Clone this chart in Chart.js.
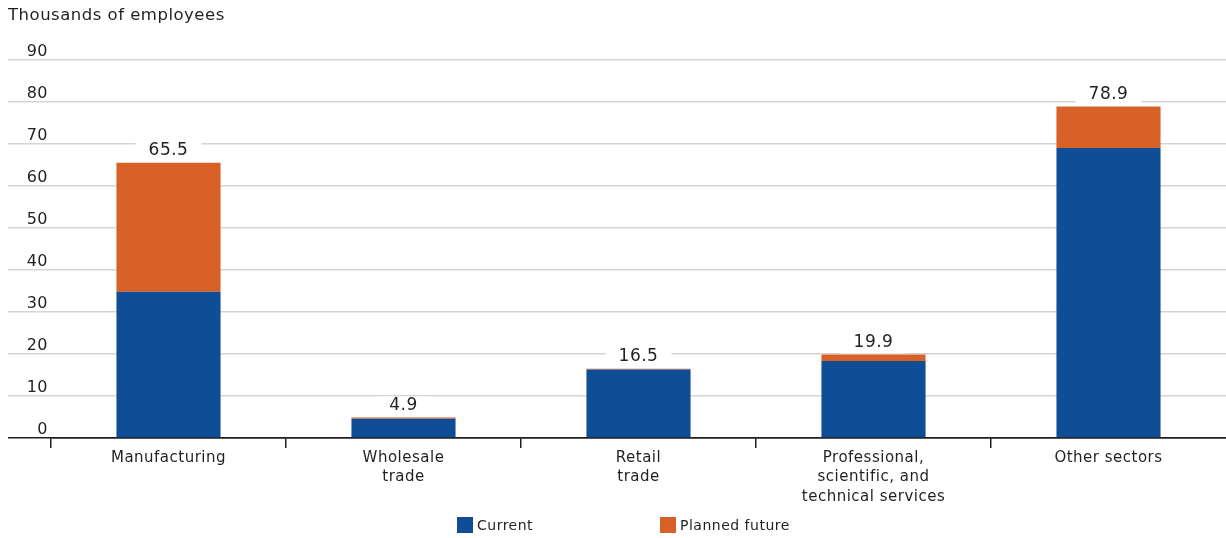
<!DOCTYPE html>
<html>
<head>
<meta charset="utf-8">
<script src="https://cdn.jsdelivr.net/npm/chart.js@4"></script>
<style>
  body { margin: 0; background: #fff; }
  #contenedor { width: 1226px; height: 538px; }
</style>
</head>
<body>
<div id="contenedor"><canvas id="empleo"></canvas></div>
<script>
// Sectores (etiquetas del eje x, en varias líneas cuando hace falta)
const sectores = [
  'Manufacturing',
  ['Wholesale', 'trade'],
  ['Retail', 'trade'],
  ['Professional,', 'scientific, and', 'technical services'],
  'Other sectors'
]
// Miles de empleados
const actual = [34.8, 4.6, 16.3, 18.3, 69.0]
const futuro = [30.7, 0.3, 0.2, 1.6, 9.9]
const y_max = 90
const y_paso = 10

const FUENTE = '"DejaVu Sans", sans-serif'
const TEXTO = '#231f20'
const AZUL = '#0f4e96'
const NARANJA = '#d86128'

// Un poco de espaciado entre letras para todo el texto del canvas
const espaciado = {
  id: 'espaciado',
  beforeUpdate: (chart) => { chart.ctx.letterSpacing = '0.5px' },
  beforeDraw: (chart) => { chart.ctx.letterSpacing = '0.5px' }
}

// Total arriba de cada barra, con fondo blanco que tapa la grilla
const totales = {
  id: 'totales',
  afterDatasetsDraw: (chart) => {
    const { ctx, scales: { x, y } } = chart
    ctx.save()
    ctx.font = `17px ${FUENTE}`
    ctx.textAlign = 'center'
    ctx.textBaseline = 'middle'
    sectores.forEach((s, i) => {
      const total = actual[i] + futuro[i]
      const txt = total.toFixed(1)
      const px = x.getPixelForValue(i)
      const py = y.getPixelForValue(total)
      const w = ctx.measureText(txt).width + 26
      ctx.fillStyle = '#fff'
      ctx.fillRect(px - w / 2, py - 21, w, 20)
      ctx.fillStyle = TEXTO
      ctx.fillText(txt, px, py - 12)
    })
    ctx.restore()
  }
}

// Leyenda propia abajo, con más separación entre items
const leyenda = {
  id: 'leyenda',
  afterDraw: (chart) => {
    const { ctx } = chart
    ctx.save()
    ctx.font = `14px ${FUENTE}`
    ctx.textAlign = 'left'
    ctx.textBaseline = 'middle'
    let x0 = 457
    const y0 = 517
    chart.data.datasets.forEach((d) => {
      ctx.fillStyle = d.backgroundColor
      ctx.fillRect(x0, y0, 16, 16)
      ctx.fillStyle = TEXTO
      ctx.fillText(d.label, x0 + 20, y0 + 9)
      x0 += 203
    })
    ctx.restore()
  }
}

window.addEventListener('load', () => {
  new Chart(document.getElementById('empleo'), {
    type: 'bar',
    data: {
      labels: sectores,
      datasets: [{
        label: 'Current',
        data: actual,
        backgroundColor: AZUL,
        borderWidth: 0,
        barPercentage: 0.443,
        categoryPercentage: 1
      }, {
        label: 'Planned future',
        data: futuro,
        backgroundColor: NARANJA,
        borderWidth: 0,
        barPercentage: 0.443,
        categoryPercentage: 1
      }]
    },
    plugins: [espaciado, totales, leyenda],
    options: {
      responsive: true,
      maintainAspectRatio: false,
      animation: false,
      layout: { padding: { left: 8, right: -1, top: 0, bottom: 0 } },
      plugins: {
        legend: { display: false },
        tooltip: { enabled: false },
        title: {
          display: true,
          text: 'Thousands of employees',
          align: 'start',
          color: TEXTO,
          font: { family: FUENTE, size: 16.5, weight: 'normal', lineHeight: 1.2 },
          padding: { top: 6, bottom: 34 }
        }
      },
      scales: {
        x: {
          stacked: true,
          offset: true,
          grid: {
            offset: true,
            drawOnChartArea: false,
            drawTicks: true,
            tickLength: 10,
            lineWidth: 1.5,
            color: (c) => c.index < sectores.length ? TEXTO : 'rgba(0,0,0,0)'
          },
          border: { display: true, color: TEXTO, width: 1.5 },
          ticks: {
            color: TEXTO,
            font: { family: FUENTE, size: 15, lineHeight: 1.27 },
            padding: 1,
            autoSkip: false,
            maxRotation: 0
          },
          afterFit: (s) => { s.height = 100 }
        },
        y: {
          stacked: true,
          min: 0,
          max: y_max,
          grid: {
            drawTicks: true,
            tickLength: 43,
            lineWidth: 1.5,
            color: (c) => (c.tick && c.tick.value === 0) ? TEXTO : '#d4d4d4'
          },
          border: { display: false },
          ticks: {
            stepSize: y_paso,
            color: TEXTO,
            font: { family: FUENTE, size: 16 },
            crossAlign: 'near',
            padding: -40,
            labelOffset: -8
          },
          afterFit: (s) => { s.width = 43 }
        }
      }
    }
  })
})
</script>
</body>
</html>
